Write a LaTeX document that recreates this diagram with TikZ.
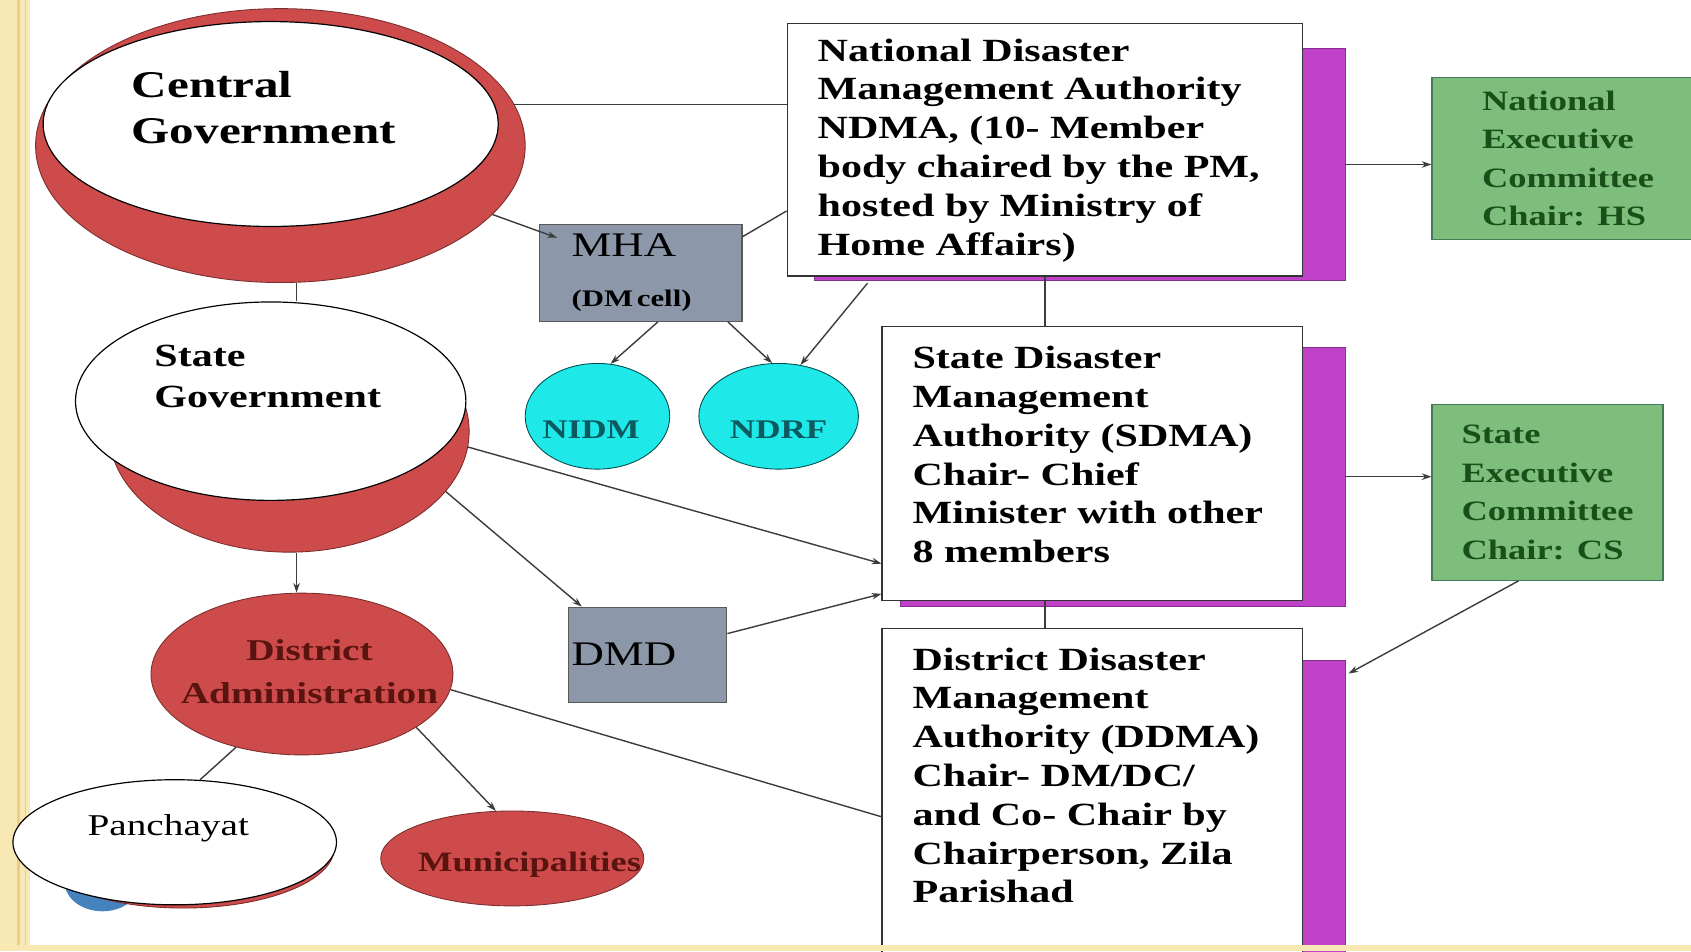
\documentclass[tikz,border=0pt]{standalone}
\usepackage{fontspec}
\setmainfont{Liberation Serif}[FakeStretch=1.3]
\usetikzlibrary{shapes.geometric,arrows.meta}

\definecolor{govred}{RGB}{205,75,75}
\definecolor{boxgray}{RGB}{140,152,170}
\definecolor{nidmcyan}{RGB}{30,232,232}
\definecolor{shadepurple}{RGB}{192,66,200}
\definecolor{execgreen}{RGB}{125,190,125}
\definecolor{execborder}{RGB}{70,120,90}
\definecolor{exectext}{RGB}{25,80,25}
\definecolor{tealtext}{RGB}{10,90,95}
\definecolor{darkred}{RGB}{90,20,15}
\definecolor{linkgray}{RGB}{60,60,60}
\definecolor{stripe}{RGB}{248,232,180}
\definecolor{stripeline}{RGB}{236,205,130}
\definecolor{pblue}{RGB}{70,130,190}

\newcommand\cgfont{\fontsize{35}{43}\selectfont\bfseries}
\newcommand\govfont{\fontsize{30}{38}\selectfont\bfseries}
\newcommand\dafont{\fontsize{28}{40}\selectfont\bfseries}
\newcommand\panchfont{\fontsize{28}{34}\selectfont}
\newcommand\munfont{\fontsize{26}{32}\selectfont\bfseries}
\newcommand\cyanfont{\fontsize{25}{30}\selectfont\bfseries}
\newcommand\mhafont{\fontsize{32}{38}\selectfont}
\newcommand\cellfont{\fontsize{22}{26}\selectfont\bfseries}
\newcommand\authfont{\fontsize{30}{36}\selectfont\bfseries}
\newcommand\execfont{\fontsize{26}{35.7}\selectfont\bfseries}

\begin{document}
\begin{tikzpicture}[x=1pt, y=-1pt,
  link/.style={draw=linkgray, line width=1.3pt},
  arr/.style={link, -{Stealth[length=9pt,width=6pt]}},
  oval/.style={ellipse, inner sep=0pt, draw=black, line width=0.8pt},
  redoval/.style={oval, fill=govred, draw=govred!60!black},
  whiteoval/.style={oval, fill=white, line width=1.1pt},
  cyanoval/.style={oval, fill=nidmcyan, draw=teal!60!black},
  graybox/.style={draw=gray!70!black, fill=boxgray, line width=1pt, align=left},
  authbox/.style={draw=black!80, fill=white, line width=1.3pt},
  shadebox/.style={fill=shadepurple, draw=shadepurple!70!black, line width=0.8pt},
  execbox/.style={draw=execborder, fill=execgreen, line width=1.3pt, align=left,
    text=exectext, font=\execfont, inner ysep=2pt},
  lbl/.style={align=left, inner sep=0pt, font=\govfont}]
  \clip (0,0) rectangle (1568,882);
  \fill[white] (0,0) rectangle (1568,882);
  \fill[stripe] (0,0) rectangle (28,882);
  \draw[stripeline, line width=3pt] (17,0) -- (17,882);
  \draw[stripeline, line width=1pt] (24,0) -- (24,882);

  % governments
  \node[redoval, minimum width=454, minimum height=254] (cgr) at (260,135) {};
  \node[whiteoval, minimum width=422, minimum height=190] (cgw) at (251,115) {};
  \node[lbl, anchor=west, font=\cgfont] (cgt) at (122,100) {Central\\Government};
  \node[redoval, minimum width=334, minimum height=224] (sgr) at (268,400) {};
  \node[whiteoval, minimum width=362, minimum height=184] (sgw) at (251,372) {};
  \node[lbl, anchor=west] (sgt) at (143,349) {State\\Government};
  \node[redoval, minimum width=280, minimum height=150] (da) at (280,625) {};
  \node[lbl, align=center, text=darkred, font=\dafont] (dat) at (287,623) {District\\Administration};
  \node[ellipse, fill=pblue, minimum width=70, minimum height=54] (pb) at (95,818) {};
  \node[redoval, minimum width=280, minimum height=112] (pr) at (170,786) {};
  \node[whiteoval, minimum width=300, minimum height=116] (pw) at (162,781) {};
  \node[lbl, font=\panchfont] (pt) at (156,768) {Panchayat};
  \node[redoval, minimum width=244, minimum height=88] (mun) at (475,796) {};
  \node[lbl, text=darkred, font=\munfont] (munt) at (491,802) {Municipalities};

  % central institutions
  \node[cyanoval, minimum width=134, minimum height=98] (nidm) at (554,386) {};
  \node[lbl, text=tealtext, font=\cyanfont] (nidmt) at (548,398) {NIDM};
  \node[cyanoval, minimum width=148, minimum height=98] (ndrf) at (722,386) {};
  \node[lbl, text=tealtext, font=\cyanfont] (ndrft) at (722,398) {NDRF};
  \node[graybox, minimum width=188, minimum height=90, text width=128, inner xsep=30] (mha)
    at (594,253) {\mhafont MHA\\[30pt]\cellfont (DM cell)};
  \node[graybox, minimum width=147, minimum height=88, text width=141, inner xsep=3] (dmd)
    at (600.5,607) {\mhafont DMD};

  % authorities
  \node[shadebox, minimum width=493, minimum height=215] (ndmas) at (1001.5,152.5) {};
  \node[authbox, minimum width=478, minimum height=234] (ndma) at (969,139) {};
  \node[lbl, anchor=west, font=\authfont] (ndmat) at (758,139.5)
    {National Disaster\\Management Authority\\NDMA, (10- Member\\body chaired by the PM,\\hosted by Ministry of\\Home Affairs)};
  \node[shadebox, minimum width=413, minimum height=240] (sdmas) at (1041.5,442) {};
  \node[authbox, minimum width=390, minimum height=254] (sdma) at (1013,430) {};
  \node[lbl, anchor=west, font=\authfont] (sdmat) at (846,421.5)
    {State Disaster\\Management\\Authority (SDMA)\\Chair- Chief\\Minister with other\\8 members};
  \node[shadebox, minimum width=413, minimum height=288] (ddmas) at (1041.5,756) {};
  \node[authbox, minimum width=390, minimum height=320] (ddma) at (1013,743) {};
  \node[lbl, anchor=west, font=\authfont] (ddmat) at (846,719)
    {District Disaster\\Management\\Authority (DDMA)\\Chair- DM/DC/\\and Co- Chair by\\Chairperson, Zila\\Parishad};

  % executive committees
  \node[execbox, minimum width=252, minimum height=150] (nec) at (1454,147)
    {National\\Executive\\Committee\\Chair: HS};
  \node[execbox, minimum width=214, minimum height=163] (sec) at (1435,456.5)
    {State\\Executive\\Committee\\Chair: CS};

  % connectors
  \draw[link] (cgr.10) -- (cgr.10 -| ndma.west);
  \draw[arr] (cgr.-18.4) -- ([shift={(17,13)}]mha.north west);
  \draw[link] ([shift={(0,12)}]mha.north east) -- ([shift={(0,-61)}]ndma.south west);
  \draw[arr] ([shift={(75,6)}]ndma.south west) -- (ndrf.67);
  \draw[arr] ([xshift=16]mha.south) -- (nidm.76);
  \draw[arr] ([xshift=81]mha.south) -- (ndrf.97);
  \draw[link] (ndma.south) -- (ndma.south |- sdma.north);
  \draw[link] (ndma.south |- sdma.south) -- (ndma.south |- ddma.north);
  \draw[arr] (ndmas.east) -- (ndmas.east -| nec.west);
  \draw[arr] (sdmas.east) -- (sdmas.east -| sec.west);
  \draw[arr] ([xshift=-27]sec.south) -- ([shift={(2,13)}]ddmas.north east);
  \draw[link] ([xshift=15]cgr.south) -- ([xshift=15]cgr.south |- sgw.north);
  \draw[arr] (sgr.-5) -- ([shift={(0,-35)}]sdma.south west);
  \draw[arr] (sgr.-21) -- ([xshift=13]dmd.north west);
  \draw[arr] ([xshift=7]sgr.south) -- ([xshift=7]sgr.south |- da.north);
  \draw[arr] ([shift={(0,25)}]dmd.north east) -- ([shift={(0,-7)}]sdma.south west);
  \draw[link] (da.-6) -- ([shift={(0,175)}]ddma.north west);
  \draw[link] (da.-132) -- (pw.68);
  \draw[arr] (da.-25) -- (mun.109);

  \fill[stripe] (0,876) rectangle (1568,882);
\end{tikzpicture}
\end{document}
